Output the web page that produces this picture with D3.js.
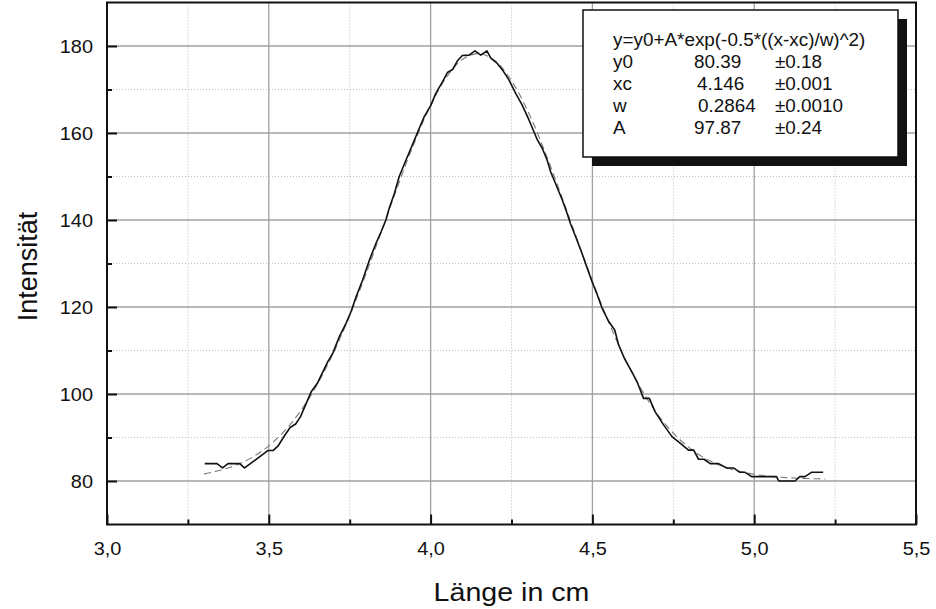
<!DOCTYPE html>
<html>
<head>
<meta charset="utf-8">
<script src="https://cdn.jsdelivr.net/npm/d3@7"></script>
<style>
  html, body { margin: 0; padding: 0; background: #fff; }
  svg { display: block; font-family: "Liberation Sans", Arial, sans-serif; }
</style>
</head>
<body>
<svg id="chart" width="936" height="609"></svg>
<script>
// ---- data ----
const measX = [3.302,3.340,3.357,3.374,3.410,3.425,3.497,3.513,3.528,3.552,3.566,3.583,3.598,3.616,3.631,3.651,3.667,3.682,3.698,3.718,3.739,3.754,3.770,3.790,3.811,3.831,3.847,3.862,3.872,3.888,3.903,3.924,3.945,3.965,3.980,4.001,4.016,4.037,4.052,4.068,4.083,4.098,4.119,4.137,4.155,4.174,4.186,4.206,4.222,4.242,4.263,4.283,4.304,4.330,4.345,4.360,4.371,4.386,4.407,4.422,4.432,4.448,4.468,4.484,4.499,4.515,4.530,4.551,4.569,4.581,4.600,4.622,4.638,4.658,4.676,4.694,4.720,4.746,4.771,4.797,4.813,4.828,4.845,4.864,4.890,4.915,4.936,4.956,4.972,4.992,5.069,5.076,5.126,5.141,5.157,5.177,5.213];
const measY = [84,84,83,84,84,83,87,87,88,90.8,92.3,93.1,94.8,97.9,100.5,102.6,105.1,107.4,109.4,113.2,116.3,118.9,122.4,126.2,130.8,134.6,137.3,140.0,142.7,146.1,150.0,153.8,157.5,161.1,163.7,166.4,169.1,171.8,173.9,174.6,176.6,177.8,177.9,178.9,177.9,178.9,177.2,176.0,174.5,172.2,169.1,166.4,163.0,158.4,156.5,153.8,151.1,148.4,144.6,141.5,139.2,136.2,132.3,128.9,125.8,122.8,119.7,116.6,114.7,111.3,108.0,105.1,102.8,99.0,99.0,95.9,92.9,90.2,88.7,87.1,87.1,85,85,84,84,83,83,82,82,81,81,80,80,81,81,82,82];

const fitX = [3.30,3.35,3.40,3.45,3.50,3.55,3.60,3.65,3.70,3.75,3.80,3.85,3.90,3.95,4.00,4.05,4.10,4.15,4.20,4.25,4.30,4.35,4.40,4.45,4.50,4.55,4.60,4.65,4.70,4.75,4.80,4.85,4.90,4.95,5.00,5.05,5.10,5.15,5.20,5.22];
const fitY = [81.64,82.45,83.68,85.50,88.08,91.62,96.29,102.24,109.50,118.02,127.57,137.76,148.07,157.82,166.33,172.91,177.01,178.25,176.54,172.02,165.09,156.33,146.44,136.11,125.99,116.58,108.25,101.20,95.46,90.98,87.61,85.16,83.45,82.29,81.54,81.06,80.77,80.60,80.50,80.47];

const xMajorTicks = [3.0,3.5,4.0,4.5,5.0,5.5];
const xMinorTicks = [3.25,3.75,4.25,4.75,5.25];
const yMajorTicks = [80,100,120,140,160,180];
const yMinorTicks = [90,110,130,150,170];

const xTitle = "Länge in cm";
const yTitle = "Intensität";

const legendFormula = "y=y0+A*exp(-0.5*((x-xc)/w)^2)";
const legendNames = ["y0","xc","w","A"];
const legendValues = ["80.39","4.146","0.2864","97.87"];
const legendErrors = ["±0.18","±0.001","±0.0010","±0.24"];

// ---- layout ----
const L = 107, R = 916, T = 2.5, B = 524.5;
const svg = d3.select("#chart");
const x = d3.scaleLinear().domain([3.0, 5.5]).range([L, R]);
const y = d3.scaleLinear().domain([70, 190]).range([B, T]);
const commaFmt = d3.formatLocale({decimal: ",", thousands: ".", grouping: [3], currency: ["", ""]}).format(".1f");
const SX = 1.05; // slight horizontal stretch of the reference text

// grid
const grid = svg.append("g");
grid.selectAll(".gxm").data(xMajorTicks.filter(d => d > 3 && d < 5.5)).join("line")
  .attr("x1", d => x(d)).attr("x2", d => x(d)).attr("y1", T).attr("y2", B)
  .attr("stroke", "#a0a0a0").attr("stroke-width", 1.3);
grid.selectAll(".gxn").data(xMinorTicks).join("line")
  .attr("x1", d => x(d)).attr("x2", d => x(d)).attr("y1", T).attr("y2", B)
  .attr("stroke", "#bdbdbd").attr("stroke-width", 1).attr("stroke-dasharray", "1,2");
grid.selectAll(".gym").data(yMajorTicks).join("line")
  .attr("x1", L).attr("x2", R).attr("y1", d => y(d)).attr("y2", d => y(d))
  .attr("stroke", "#a0a0a0").attr("stroke-width", 1.3);
grid.selectAll(".gyn").data(yMinorTicks).join("line")
  .attr("x1", L).attr("x2", R).attr("y1", d => y(d)).attr("y2", d => y(d))
  .attr("stroke", "#bdbdbd").attr("stroke-width", 1).attr("stroke-dasharray", "1,2");

// fit curve
const fitLine = d3.line().x((d, i) => x(fitX[i])).y(d => y(d)).curve(d3.curveCatmullRom);
svg.append("path").attr("d", fitLine(fitY))
  .attr("fill", "none").attr("stroke", "#7a7a7a").attr("stroke-width", 1.1)
  .attr("stroke-dasharray", "7,4");

// measured curve
const measLine = d3.line().x((d, i) => x(measX[i])).y(d => y(d));
svg.append("path").attr("d", measLine(measY))
  .attr("fill", "none").attr("stroke", "#111").attr("stroke-width", 1.6)
  .attr("stroke-linejoin", "round");

// axes (ticks inward)
const xAxisMaj = d3.axisBottom(x).tickValues(xMajorTicks).tickSize(-10).tickFormat(commaFmt);
const xAxisMin = d3.axisBottom(x).tickValues(xMinorTicks).tickSize(-5).tickFormat("");
const yAxisMaj = d3.axisLeft(y).tickValues(yMajorTicks).tickSize(-10).tickFormat(d3.format("d"));
const yAxisMin = d3.axisLeft(y).tickValues(yMinorTicks).tickSize(-5).tickFormat("");

function styleAxis(g) {
  g.select(".domain").remove();
  g.selectAll(".tick line").attr("stroke", "#111").attr("stroke-width", 2);
  g.selectAll("text").attr("fill", "#111").style("font-size", "19px")
    .style("font-family", "'Liberation Sans', Arial, sans-serif");
}
const gxM = svg.append("g").attr("transform", `translate(0,${B})`).call(xAxisMaj).call(styleAxis);
gxM.selectAll(".tick text").attr("y", 0).attr("dy", "0.35em").attr("transform", `translate(0,24) scale(${SX},1)`);
svg.append("g").attr("transform", `translate(0,${B})`).call(xAxisMin).call(styleAxis);
const gyM = svg.append("g").attr("transform", `translate(${L},0)`).call(yAxisMaj).call(styleAxis);
gyM.selectAll(".tick text").attr("x", 0).attr("dy", "0.35em").attr("transform", `translate(-14,0) scale(${SX},1)`);
svg.append("g").attr("transform", `translate(${L},0)`).call(yAxisMin).call(styleAxis);

// frame
svg.append("rect").attr("x", L).attr("y", T).attr("width", R - L).attr("height", B - T)
  .attr("fill", "none").attr("stroke", "#111").attr("stroke-width", 2);

// axis titles
svg.append("text").attr("transform", `translate(${(L + R) / 2},601) scale(1.1,1)`)
  .attr("text-anchor", "middle").style("font-size", "26px").attr("fill", "#111").text(xTitle);
svg.append("text").attr("transform", `translate(37,${(T + B) / 2 + 3}) scale(1.05,1) rotate(-90)`)
  .attr("text-anchor", "middle").style("font-size", "27px").attr("fill", "#111").text(yTitle);

// legend
const lg = svg.append("g");
lg.append("rect").attr("x", 592).attr("y", 19).attr("width", 315).attr("height", 147).attr("fill", "#111");
lg.append("rect").attr("x", 583).attr("y", 10).attr("width", 315).attr("height", 147)
  .attr("fill", "#fff").attr("stroke", "#111").attr("stroke-width", 1.5);
function ltext(tx, ty, s) {
  lg.append("text").attr("transform", `translate(${tx},${ty}) scale(${SX},1)`)
    .attr("dy", "0.35em").style("font-size", "18px").attr("fill", "#111").text(s);
}
ltext(613, 40, legendFormula);
const rowY = [62, 84, 106, 128];
const valX = [694, 697, 698, 694];
legendNames.forEach((n, i) => {
  ltext(613, rowY[i], n);
  ltext(valX[i], rowY[i], legendValues[i]);
  ltext(775, rowY[i], legendErrors[i]);
});
</script>
</body>
</html>
